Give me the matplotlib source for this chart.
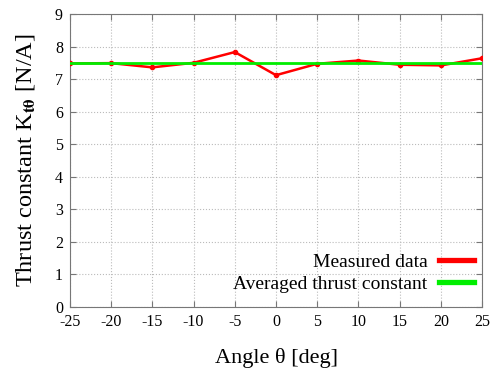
import matplotlib
matplotlib.use("Agg")
import matplotlib.pyplot as plt

# data
angles = [-25, -20, -15, -10, -5, 0, 5, 10, 15, 20, 25]
measured = [7.48, 7.49, 7.36, 7.50, 7.83, 7.12, 7.47, 7.57, 7.44, 7.42, 7.64]
average = 7.48

plt.rcParams['font.family'] = ['Liberation Serif', 'DejaVu Serif']
plt.rcParams['mathtext.fontset'] = 'stix'
plt.rcParams['axes.unicode_minus'] = False

fig = plt.figure(figsize=(4.92, 3.68), dpi=100)
ax = fig.add_axes([0.142, 0.166, 0.838, 0.796])

ax.plot(angles, measured, color='#ff0000', lw=1.8, marker='o', ms=3,
        label='Measured data', zorder=3)
ax.plot([angles[0], angles[-1]], [average, average], color='#00ee00', lw=2,
        label='Averaged thrust constant', zorder=4)

ax.set_xlim(-25, 25)
ax.set_ylim(0, 9)
ax.set_xticks(range(-25, 26, 5))
ax.set_yticks(range(0, 10))
ax.grid(True, color='#bbbbbb', linestyle=':', lw=0.8)
ax.tick_params(direction='in', top=True, right=True, labelsize=11.5,
               color='#777777', length=4, pad=5)
for s in ax.spines.values():
    s.set_color('#777777')

ax.set_xlabel('Angle θ [deg]', fontsize=16, labelpad=13)
ax.set_ylabel(r'Thrust constant K$_{\mathbf{t\theta}}$ [N/A]', fontsize=17.5, labelpad=13)

ax.legend(loc='lower right', frameon=False, markerfirst=False, fontsize=14,
          handlelength=1.8, handletextpad=0.6, borderaxespad=0.0,
          labelspacing=0.25, bbox_to_anchor=(1.0, 0.02))
for line in ax.get_legend().get_lines():
    line.set_linewidth(3.8)
    line.set_marker('')

fig.savefig('out.png', dpi=100)
